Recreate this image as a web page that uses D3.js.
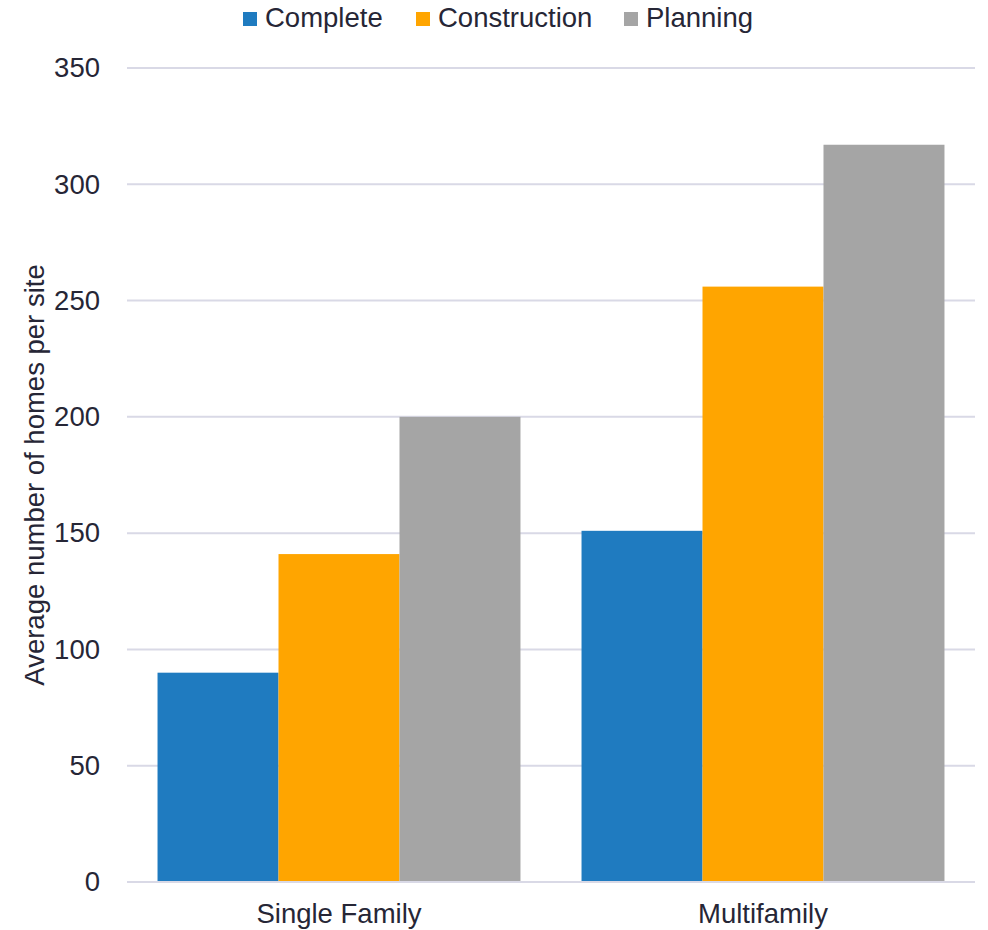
<!DOCTYPE html>
<html>
<head>
<meta charset="utf-8">
<script src="https://cdn.jsdelivr.net/npm/d3@7/dist/d3.min.js"></script>
<style>
  html, body { margin: 0; padding: 0; background: #ffffff; }
  svg { display: block; font-family: "Liberation Sans", Arial, sans-serif; }
</style>
</head>
<body>
<svg id="chart" width="988" height="930"></svg>
<script>
// Average homes per site by development status
const categories = ["Single Family", "Multifamily"];
const seriesNames = ["Complete", "Construction", "Planning"];
const complete = [90, 151];
const construction = [141, 256];
const planning = [200, 317];
const yTicks = [0, 50, 100, 150, 200, 250, 300, 350];
const colors = ["#1F7BC0", "#FFA500", "#A5A5A5"];

const seriesValues = [complete, construction, planning];
const rows = categories.map((c, i) => ({
  category: c,
  values: seriesNames.map((s, j) => ({ series: s, value: seriesValues[j][i], idx: j }))
}));

const svg = d3.select("#chart");
const plot = { left: 127, right: 975, top: 68, bottom: 882 };
const textColor = "#262636";
const gridColor = "#D9D9E6";
const fontSize = 27.5;

const x0 = d3.scaleBand().domain(categories).range([plot.left, plot.right])
  .paddingInner(0.144).paddingOuter(0.072);
const x1 = d3.scaleBand().domain(seriesNames).range([0, x0.bandwidth()]).padding(0);
const y = d3.scaleLinear().domain([0, 350]).range([plot.bottom, plot.top]);

// Horizontal gridlines
svg.append("g")
  .selectAll("line")
  .data(yTicks)
  .join("line")
  .attr("x1", plot.left).attr("x2", plot.right)
  .attr("y1", d => y(d)).attr("y2", d => y(d))
  .attr("stroke", gridColor).attr("stroke-width", 2);

// Y axis labels
const yAxis = svg.append("g")
  .attr("transform", `translate(${plot.left},0)`)
  .call(d3.axisLeft(y).tickValues(yTicks).tickSize(0).tickPadding(27));
yAxis.select(".domain").remove();
yAxis.selectAll("text")
  .attr("font-size", fontSize)
  .attr("font-family", "Liberation Sans, Arial, sans-serif")
  .attr("fill", textColor);

// Bars
const groups = svg.append("g")
  .selectAll("g")
  .data(rows)
  .join("g")
  .attr("transform", d => `translate(${x0(d.category)},0)`);

groups.selectAll("rect")
  .data(d => d.values)
  .join("rect")
  .attr("x", d => x1(d.series))
  .attr("width", x1.bandwidth())
  .attr("y", d => y(d.value))
  .attr("height", d => y(0) - y(d.value))
  .attr("fill", d => colors[d.idx]);

// Baseline
svg.append("line")
  .attr("x1", plot.left).attr("x2", plot.right)
  .attr("y1", y(0)).attr("y2", y(0))
  .attr("stroke", gridColor).attr("stroke-width", 2);

// X axis labels
const xAxis = svg.append("g")
  .attr("transform", `translate(0,${plot.bottom})`)
  .call(d3.axisBottom(x0).tickSize(0).tickPadding(21));
xAxis.select(".domain").remove();
xAxis.selectAll("text")
  .attr("font-size", fontSize)
  .attr("font-family", "Liberation Sans, Arial, sans-serif")
  .attr("fill", textColor);

// Y axis title
svg.append("text")
  .attr("transform", `translate(44,${(plot.top + plot.bottom) / 2}) rotate(-90)`)
  .attr("text-anchor", "middle")
  .attr("font-size", fontSize)
  .attr("fill", textColor)
  .text("Average number of homes per site");

// Legend
const legendX = [243, 416, 624];
const legend = svg.append("g")
  .selectAll("g")
  .data(seriesNames)
  .join("g")
  .attr("transform", (d, i) => `translate(${legendX[i]},0)`);
legend.append("rect")
  .attr("x", 0).attr("y", 12)
  .attr("width", 14).attr("height", 14)
  .attr("fill", (d, i) => colors[i]);
legend.append("text")
  .attr("x", 22).attr("y", 27)
  .attr("font-size", fontSize)
  .attr("fill", textColor)
  .text(d => d);
</script>
</body>
</html>
